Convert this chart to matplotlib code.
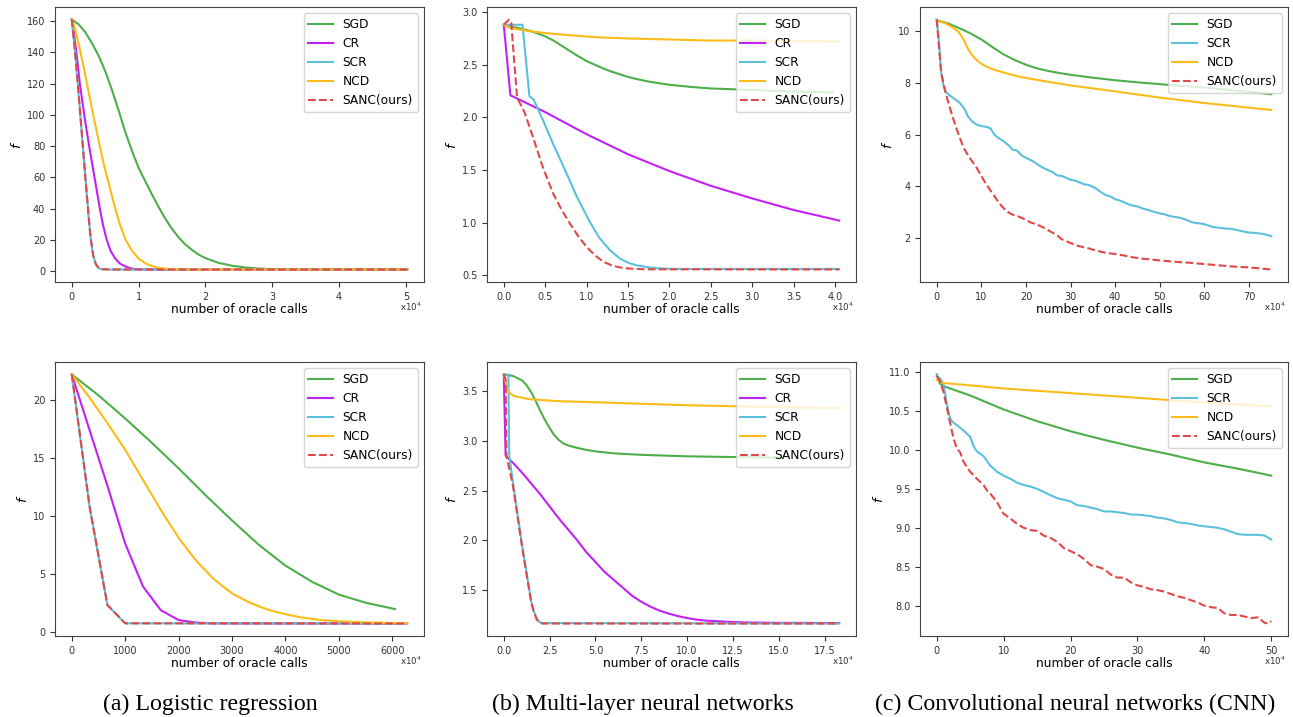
import numpy as np
import matplotlib.pyplot as plt

# Objective value f against number of oracle calls (x axis in units of 1e4).
# Each series is a list of (x, f) pairs.

# (a) logistic regression, top
lr1_sgd = [(0, 161), (0.1, 158), (0.2, 153), (0.3, 146), (0.4, 138), (0.5, 128),
           (0.6, 116), (0.7, 103), (0.8, 89), (0.9, 77), (1.0, 66), (1.1, 57.5),
           (1.2, 49), (1.3, 41), (1.4, 33.5), (1.5, 27), (1.6, 21.5), (1.7, 17),
           (1.8, 13.5), (1.9, 10.5), (2.0, 8.3), (2.2, 5.2), (2.4, 3.4), (2.6, 2.3),
           (2.8, 1.6), (3.0, 1.3), (3.5, 1.05), (5.02, 1.0)]
lr1_cr = [(0, 161), (0.03, 153), (0.06, 143), (0.09, 132), (0.12, 120), (0.16, 108),
          (0.2, 96), (0.26, 80), (0.3, 70), (0.34, 60), (0.38, 50), (0.42, 40),
          (0.47, 29), (0.52, 20.5), (0.58, 13), (0.65, 8), (0.72, 4.8), (0.8, 3),
          (0.88, 1.8), (0.95, 1.2), (1.05, 1.0), (5.02, 1.0)]
lr1_scr = [(0, 161), (0.05, 140), (0.1, 115), (0.15, 88), (0.2, 62), (0.25, 36),
           (0.28, 22), (0.32, 10), (0.36, 4.5), (0.4, 2), (0.45, 1.2), (0.55, 1.0), (5.02, 1.0)]
lr1_ncd = [(0, 161), (0.05, 155), (0.1, 146), (0.15, 136), (0.2, 126), (0.25, 115),
           (0.3, 104), (0.36, 92), (0.42, 80), (0.47, 70), (0.53, 60), (0.59, 50),
           (0.65, 40), (0.72, 30), (0.8, 20.5), (0.9, 13), (1.0, 8), (1.1, 5),
           (1.2, 3.2), (1.3, 2.1), (1.4, 1.5), (1.5, 1.2), (1.7, 1.0), (5.02, 1.0)]
lr1_sanc = [(0, 161), (0.05, 140), (0.1, 115), (0.15, 88), (0.2, 62), (0.25, 36),
            (0.28, 22), (0.32, 10), (0.36, 4.5), (0.4, 2), (0.45, 1.2), (0.55, 1.0), (5.02, 1.0)]

# (b) multi-layer neural network, top
mlp1_sgd = [(0, 2.88), (0.1, 2.86), (0.2, 2.845), (0.3, 2.825), (0.4, 2.80), (0.5, 2.77),
            (0.6, 2.73), (0.7, 2.68), (0.8, 2.63), (0.9, 2.58), (1.0, 2.535), (1.1, 2.50),
            (1.2, 2.465), (1.3, 2.435), (1.4, 2.41), (1.5, 2.385), (1.6, 2.365),
            (1.75, 2.34), (2.0, 2.31), (2.25, 2.29), (2.5, 2.275), (3.0, 2.26),
            (3.5, 2.245), (3.97, 2.236)]
mlp1_cr = [(0, 2.88), (0.08, 2.21), (0.5, 2.05), (1.0, 1.84), (1.5, 1.65), (2.0, 1.49),
           (2.5, 1.35), (3.0, 1.23), (3.5, 1.12), (4.05, 1.02)]
mlp1_scr = [(0, 2.88), (0.226, 2.88), (0.31, 2.20), (0.36, 2.17), (0.47, 1.98),
            (0.6, 1.74), (0.74, 1.5), (0.88, 1.25), (1.03, 1.02), (1.15, 0.86),
            (1.28, 0.74), (1.4, 0.66), (1.5, 0.62), (1.6, 0.595), (1.75, 0.575),
            (1.9, 0.565), (2.1, 0.56), (4.05, 0.56)]
mlp1_ncd = [(0, 2.88), (0.07, 2.85), (0.3, 2.82), (0.52, 2.80), (0.8, 2.78), (1.16, 2.76),
            (1.5, 2.75), (2.0, 2.74), (2.5, 2.73), (3.0, 2.73), (4.05, 2.72)]
mlp1_sanc = [(0, 2.88), (0.064, 2.93), (0.09, 2.90), (0.16, 2.19), (0.25, 2.05),
             (0.35, 1.82), (0.47, 1.53), (0.6, 1.27), (0.7, 1.12), (0.8, 0.99),
             (0.9, 0.87), (1.0, 0.77), (1.1, 0.69), (1.2, 0.63), (1.3, 0.595),
             (1.4, 0.575), (1.5, 0.565), (1.7, 0.557), (4.05, 0.555)]

# (c) CNN, top
cnn1_sgd = [(0, 10.42), (2.5, 10.3), (5, 10.12), (7.5, 9.92), (10, 9.68), (12.5, 9.38),
            (15, 9.1), (17.5, 8.88), (20, 8.7), (22.5, 8.56), (25, 8.46), (27.5, 8.38),
            (30, 8.31), (35, 8.2), (40, 8.1), (45, 8.02), (50, 7.95), (55, 7.88),
            (60, 7.82), (65, 7.73), (70, 7.65), (75, 7.56)]
cnn1_scr = [(0, 10.45), (0.5, 9.6), (1, 8.4), (1.5, 7.9), (2, 7.65), (3, 7.5), (4, 7.38),
            (5, 7.25), (6, 7.05), (6.5, 6.9), (7, 6.7), (8, 6.5), (9, 6.38), (10, 6.33),
            (11, 6.3), (12, 6.25), (13, 5.98), (14, 5.85), (15, 5.74), (16, 5.6),
            (17, 5.42), (18, 5.38), (19, 5.2), (20, 5.1), (21, 5.02), (22, 4.92),
            (23, 4.8), (24, 4.7), (25, 4.62), (26, 4.55), (27, 4.42), (28, 4.4),
            (29, 4.33), (30, 4.25), (31, 4.22), (32, 4.15), (33, 4.08), (34, 4.05),
            (35, 3.98), (36, 3.88), (37, 3.75), (38, 3.65), (39, 3.6), (40, 3.5),
            (41, 3.45), (42, 3.38), (43, 3.3), (44, 3.25), (45, 3.22), (46, 3.15),
            (47, 3.1), (48, 3.05), (49, 3.0), (50, 2.95), (51, 2.92), (52, 2.86),
            (53, 2.82), (54, 2.8), (55, 2.76), (56, 2.7), (57, 2.62), (58, 2.58),
            (59, 2.56), (60, 2.53), (61, 2.48), (62, 2.42), (63, 2.4), (64, 2.38),
            (65, 2.36), (66, 2.35), (67, 2.32), (68, 2.28), (69, 2.24), (70, 2.21),
            (71, 2.2), (72, 2.18), (73, 2.16), (74, 2.12), (75, 2.07)]
cnn1_ncd = [(0, 10.4), (2, 10.3), (4, 10.1), (5, 9.95), (6, 9.68), (7, 9.32), (8, 9.05),
            (9, 8.87), (10, 8.74), (11, 8.64), (12, 8.56), (14, 8.45), (16, 8.35),
            (18, 8.26), (20, 8.19), (25, 8.04), (30, 7.9), (40, 7.67), (50, 7.43),
            (60, 7.22), (75, 6.95)]
cnn1_sanc = [(0, 10.45), (0.5, 9.4), (1, 8.4), (2, 7.6), (3, 7.0), (4, 6.45), (5, 5.95),
             (6, 5.5), (7, 5.2), (8, 4.95), (9, 4.7), (10, 4.4), (11, 4.1), (12, 3.85),
             (13, 3.6), (14, 3.35), (15, 3.15), (16, 3.0), (17, 2.9), (18, 2.85),
             (19, 2.78), (20, 2.7), (21, 2.6), (22, 2.55), (23, 2.48), (24, 2.4),
             (25, 2.3), (26, 2.2), (27, 2.1), (28, 1.95), (29, 1.88), (30, 1.8),
             (32, 1.68), (34, 1.6), (36, 1.5), (38, 1.42), (40, 1.38), (42, 1.32),
             (44, 1.25), (46, 1.2), (48, 1.17), (50, 1.13), (52, 1.1), (54, 1.07),
             (56, 1.05), (58, 1.02), (60, 0.99), (62, 0.96), (64, 0.93), (66, 0.9),
             (68, 0.88), (70, 0.86), (72, 0.83), (75, 0.78)]

# (a) logistic regression, bottom
lr2_sgd = [(0, 22.2), (500, 20.4), (1000, 18.4), (1500, 16.3), (2000, 14.1), (2500, 11.8),
           (3000, 9.6), (3500, 7.5), (4000, 5.7), (4500, 4.3), (5000, 3.2), (5500, 2.5),
           (6050, 1.95)]
lr2_cr = [(0, 22.2), (333, 17.4), (667, 12.6), (1000, 7.6), (1333, 3.9), (1667, 1.85),
          (2000, 1.0), (2333, 0.78), (2667, 0.72), (6280, 0.7)]
lr2_scr = [(0, 22.2), (333, 10.8), (667, 2.3), (1000, 0.72), (6280, 0.7)]
lr2_ncd = [(0, 22.2), (333, 20.2), (667, 18.0), (1000, 15.7), (1333, 13.1), (1667, 10.5),
           (2000, 8.1), (2333, 6.1), (2667, 4.5), (3000, 3.3), (3333, 2.5), (3667, 1.9),
           (4000, 1.5), (4333, 1.2), (4667, 1.0), (5000, 0.9), (5500, 0.8), (6280, 0.72)]
lr2_sanc = [(0, 22.2), (333, 10.8), (667, 2.3), (1000, 0.72), (6280, 0.7)]

# (b) multi-layer neural network, bottom
mlp2_sgd = [(0, 3.67), (0.5, 3.655), (1.0, 3.61), (1.25, 3.56), (1.5, 3.49), (1.75, 3.40),
            (2.0, 3.30), (2.25, 3.21), (2.5, 3.13), (2.75, 3.06), (3.0, 3.01),
            (3.25, 2.975), (3.5, 2.955), (4.0, 2.93), (4.5, 2.91), (5.0, 2.895),
            (6.0, 2.875), (7.5, 2.86), (10, 2.845), (12.5, 2.838), (15.2, 2.832)]
mlp2_cr = [(0, 3.67), (0.1, 2.85), (0.5, 2.78), (1.0, 2.68), (1.5, 2.57), (2.0, 2.46),
           (2.5, 2.34), (3.0, 2.22), (3.5, 2.11), (4.0, 2.0), (4.5, 1.88), (5.0, 1.78),
           (5.5, 1.68), (6.0, 1.6), (6.5, 1.52), (7.0, 1.44), (7.5, 1.38), (8.0, 1.33),
           (8.5, 1.29), (9.0, 1.26), (9.5, 1.235), (10, 1.215), (10.5, 1.2), (11, 1.19),
           (12, 1.18), (13, 1.172), (15, 1.167), (18.3, 1.165)]
mlp2_scr = [(0, 3.67), (0.25, 3.67), (0.3, 2.85), (0.5, 2.58), (1.0, 1.95), (1.5, 1.38),
            (1.65, 1.28), (1.8, 1.21), (1.95, 1.175), (2.1, 1.165), (18.3, 1.16)]
mlp2_ncd = [(0, 3.67), (0.24, 3.49), (0.6, 3.45), (1.42, 3.42), (3.06, 3.40), (5.0, 3.39),
            (7.5, 3.375), (10, 3.36), (12.5, 3.35), (15, 3.34), (18.3, 3.33)]
mlp2_sanc = [(0, 3.67), (0.1, 3.62), (0.15, 2.85), (0.5, 2.55), (1.0, 1.93), (1.5, 1.37),
             (1.65, 1.27), (1.8, 1.2), (1.95, 1.17), (2.1, 1.16), (18.3, 1.16)]

# (c) CNN, bottom
cnn2_sgd = [(0, 10.97), (0.5, 10.85), (1, 10.82), (5, 10.7), (10, 10.52), (15, 10.37),
            (20, 10.24), (25, 10.13), (30, 10.03), (35, 9.94), (40, 9.84), (45, 9.76),
            (50, 9.67)]
cnn2_scr = [(0, 10.95), (0.5, 10.92), (1, 10.85), (1.5, 10.6), (2, 10.4), (2.5, 10.35),
            (3, 10.32), (4, 10.25), (5, 10.17), (5.5, 10.05), (6, 9.98), (7, 9.92),
            (8, 9.8), (9, 9.72), (10, 9.67), (11, 9.63), (12, 9.58), (13, 9.55),
            (14, 9.53), (15, 9.5), (16, 9.46), (17, 9.42), (18, 9.38), (19, 9.36),
            (20, 9.34), (21, 9.29), (22, 9.28), (23, 9.26), (24, 9.24), (25, 9.21),
            (26, 9.21), (27, 9.2), (28, 9.19), (29, 9.17), (30, 9.17), (31, 9.16),
            (32, 9.15), (33, 9.13), (34, 9.12), (35, 9.1), (36, 9.07), (37, 9.06),
            (38, 9.05), (39, 9.03), (40, 9.02), (41, 9.01), (42, 9.0), (43, 8.98),
            (44, 8.95), (45, 8.92), (46, 8.91), (47, 8.91), (48, 8.91), (49, 8.9), (50, 8.85)]
cnn2_ncd = [(0, 10.9), (1, 10.86), (5, 10.83), (10, 10.79), (20, 10.73), (30, 10.67),
            (40, 10.61), (50, 10.56)]
cnn2_sanc = [(0, 10.95), (0.5, 10.88), (1, 10.75), (1.5, 10.55), (2, 10.35), (2.5, 10.15),
             (3, 10.02), (3.5, 9.97), (4, 9.85), (4.5, 9.78), (5, 9.72), (6, 9.63),
             (7, 9.55), (7.5, 9.48), (8, 9.44), (9, 9.33), (10, 9.18), (11, 9.12),
             (12, 9.05), (13, 9.0), (14, 8.97), (15, 8.96), (16, 8.9), (17, 8.87),
             (18, 8.82), (19, 8.74), (20, 8.7), (21, 8.66), (22, 8.6), (23, 8.52),
             (24, 8.5), (25, 8.47), (26, 8.4), (27, 8.36), (28, 8.36), (29, 8.3),
             (30, 8.26), (31, 8.24), (32, 8.21), (33, 8.2), (34, 8.18), (35, 8.15),
             (36, 8.12), (37, 8.1), (38, 8.07), (39, 8.04), (40, 8.0), (41, 7.98),
             (42, 7.97), (43, 7.9), (44, 7.88), (45, 7.88), (46, 7.86), (47, 7.84),
             (48, 7.85), (49, 7.78), (49.5, 7.77), (50, 7.8)]

captions = ["(a) Logistic regression", "(b) Multi-layer neural networks",
            "(c) Convolutional neural networks (CNN)"]

styles = {
    "SGD": dict(color="#4daf4a", ls="-"),
    "CR": dict(color="#c320f5", ls="-"),
    "SCR": dict(color="#5bc0de", ls="-"),
    "NCD": dict(color="#fcbc18", ls="-"),
    "SANC(ours)": dict(color="#e04848", ls="--"),
}

panels = [
    [("SGD", lr1_sgd), ("CR", lr1_cr), ("SCR", lr1_scr), ("NCD", lr1_ncd), ("SANC(ours)", lr1_sanc)],
    [("SGD", mlp1_sgd), ("CR", mlp1_cr), ("SCR", mlp1_scr), ("NCD", mlp1_ncd), ("SANC(ours)", mlp1_sanc)],
    [("SGD", cnn1_sgd), ("SCR", cnn1_scr), ("NCD", cnn1_ncd), ("SANC(ours)", cnn1_sanc)],
    [("SGD", lr2_sgd), ("CR", lr2_cr), ("SCR", lr2_scr), ("NCD", lr2_ncd), ("SANC(ours)", lr2_sanc)],
    [("SGD", mlp2_sgd), ("CR", mlp2_cr), ("SCR", mlp2_scr), ("NCD", mlp2_ncd), ("SANC(ours)", mlp2_sanc)],
    [("SGD", cnn2_sgd), ("SCR", cnn2_scr), ("NCD", cnn2_ncd), ("SANC(ours)", cnn2_sanc)],
]

W, H = 1293, 717
fig = plt.figure(figsize=(W / 100, H / 100), dpi=100)

lefts = [55, 487, 920]
widths = [369, 369, 368]
tops = [7, 362]
heights = [275, 274]

for i, series in enumerate(panels):
    row, col = divmod(i, 3)
    l, w = lefts[col], widths[col]
    t, h = tops[row], heights[row]
    ax = fig.add_axes([l / W, 1 - (t + h) / H, w / W, h / H])
    for name, pts in series:
        x, y = np.array(pts, dtype=float).T
        ax.plot(x, y, lw=1.5, label=name, **styles[name])
    ax.set_xlabel("number of oracle calls", fontsize=8.8, labelpad=1)
    ax.set_ylabel("$f$", fontsize=9.5, labelpad=2)
    ax.tick_params(labelsize=7, colors="#333333")
    for s in ax.spines.values():
        s.set_color("#444444")
    ax.legend(loc="upper right", fontsize=8.8, handlelength=2.0)
    ax.annotate("x10$^4$", xy=(1, 0), xycoords="axes fraction",
                xytext=(-2, -25), textcoords="offset pixels",
                ha="right", va="center", fontsize=6.2, color="#333333")

for text, cx in zip(captions, [210, 643, 1075]):
    fig.text(cx / W, 1 - 704 / H, text, ha="center", va="center",
             fontsize=17.2, family="Liberation Serif")

fig.savefig("out.png", dpi=100)
